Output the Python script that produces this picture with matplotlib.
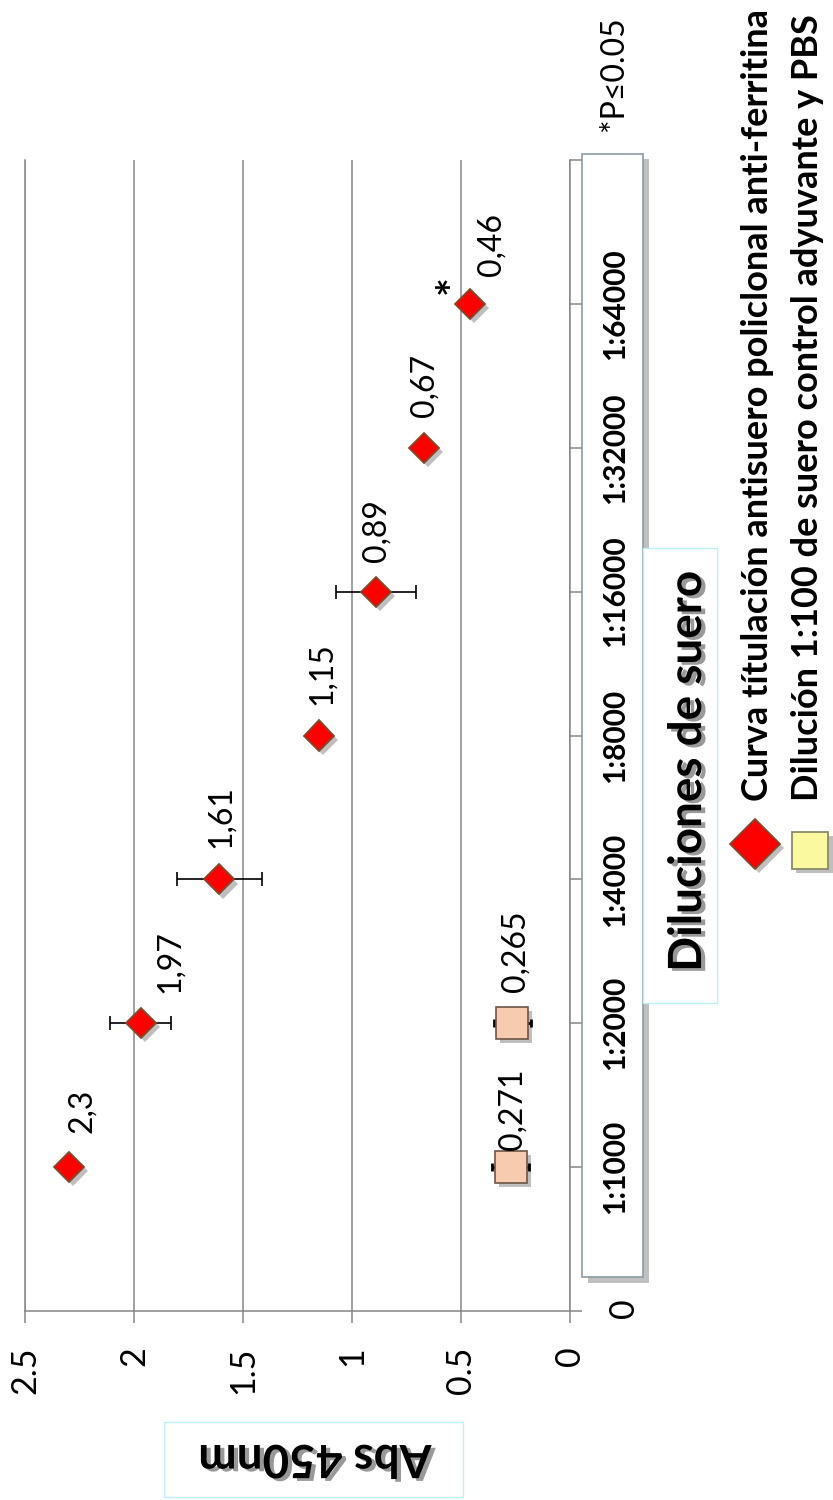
import matplotlib
matplotlib.use("Agg")
import matplotlib.pyplot as plt
import matplotlib.patheffects as pe
from matplotlib.patches import Rectangle
from matplotlib.lines import Line2D
from matplotlib import transforms

plt.rcParams['font.family'] = ['Lato', 'DejaVu Sans']

# titulacion del antisuero (Abs 450nm) por dilucion
diluciones = ['1:1000', '1:2000', '1:4000', '1:8000', '1:16000', '1:32000', '1:64000']
abs_antisuero = [2.3, 1.97, 1.61, 1.15, 0.89, 0.67, 0.46]
err_antisuero = [0, 0.14, 0.195, 0, 0.183, 0, 0]
# suero control (adyuvante y PBS) a 1:100, medido en las dos primeras posiciones
abs_control = [0.271, 0.265]
err_control = [0.085, 0.085]
sig = [False, False, False, False, False, False, True]

# desplazamiento de las etiquetas de valor (pixeles)
off_antisuero = [(13, 56), (29, 62), (2, 63), (3, 62), (1, 61), (1, 62), (22, 59)]
off_control = [(2, 58), (3, 72)]

GRIS = '#868686'
pos = list(range(1, len(diluciones) + 1))


def coma(v):
    return f'{v:g}'.replace('.', ',')


sombra = [pe.SimplePatchShadow(offset=(3, -3), shadow_rgbFace='black', alpha=0.25), pe.Normal()]

fig = plt.figure(figsize=(8.33, 15), dpi=100)
ax = fig.add_axes([0.030, 0.126, 0.6543, 0.7673])
ax.set_xlim(2.5, 0)
ax.set_ylim(0, 8)

ax.set_xticks([0, 0.5, 1, 1.5, 2, 2.5])
ax.set_xticklabels(['0', '0.5', '1', '1.5', '2', '2.5'])
ax.grid(axis='x', color=GRIS, lw=1.1)
ax.set_axisbelow(True)
ax.yaxis.tick_right()
ax.set_yticks(range(9))
ax.set_yticklabels(['0'] + [''] * 8)
ax.tick_params(axis='x', direction='out', length=8.6, width=1.1, color=GRIS,
               pad=17, labelsize=24.5, labelrotation=90)
ax.tick_params(axis='y', direction='out', length=8.6, width=1.1, color=GRIS,
               pad=19, labelsize=24.5, labelrotation=90)
ax.spines['top'].set_visible(False)
for s in ['left', 'bottom', 'right']:
    ax.spines[s].set_color(GRIS)
    ax.spines[s].set_linewidth(1.1)

# curva de titulacion
ax.errorbar(abs_antisuero, pos, xerr=err_antisuero, fmt='none', ecolor='black',
            elinewidth=1.2, capsize=5, capthick=1.2, zorder=3)
ax.plot(abs_antisuero, pos, linestyle='none', marker='D', ms=15.3, mfc='#FF0000',
        mec='#7F4A2A', mew=1.3, zorder=4, path_effects=sombra)

# control
ax.errorbar(abs_control, pos[:2], xerr=err_control, fmt='none', ecolor='black',
            elinewidth=2, capsize=3, capthick=2, zorder=3)
ax.plot(abs_control, pos[:2], linestyle='none', marker='s', ms=23, mfc='#F6CBB0',
        mec='#6E5546', mew=1.2, zorder=4, path_effects=sombra)

for v, p, (dx, dy) in zip(abs_antisuero, pos, off_antisuero):
    ax.annotate(coma(v), (v, p), xytext=(dx, dy), textcoords='offset pixels',
                rotation=90, rotation_mode='anchor', ha='center', va='center',
                fontsize=23, zorder=5)
for v, p, (dx, dy) in zip(abs_control, pos, off_control):
    ax.annotate(coma(v), (v, p), xytext=(dx, dy), textcoords='offset pixels',
                rotation=90, rotation_mode='anchor', ha='center', va='center',
                fontsize=23, zorder=5)
for v, p, s in zip(abs_antisuero, pos, sig):
    if s:
        ax.annotate('*', (v, p), xytext=(-16, 19), textcoords='offset pixels',
                    rotation=90, rotation_mode='anchor', ha='center', va='center',
                    fontsize=32, fontweight='bold', zorder=5)

# caja de las etiquetas de dilucion
fig.add_artist(Rectangle((0.6987, 0.1487), 0.0732, 0.7487, transform=fig.transFigure,
                         fc='white', ec='#8C9BA3', lw=1.2, zorder=1,
                         path_effects=[pe.withSimplePatchShadow(offset=(4, -4), alpha=0.35)]))
trans = transforms.blended_transform_factory(fig.transFigure, ax.transData)
for p, lab in zip(pos, diluciones):
    fig.text(0.738, p, lab, transform=trans, rotation=90, rotation_mode='anchor',
             ha='center', va='center', fontsize=21.5, fontweight='bold', zorder=3)

# titulos de ejes
titulo_sombra = [pe.withSimplePatchShadow(offset=(3, -2), shadow_rgbFace='#555555', alpha=0.6)]
fig.add_artist(Rectangle((0.772, 0.3313), 0.0888, 0.3033, transform=fig.transFigure,
                         fc='white', ec='#BDEFF6', lw=1, zorder=1))
fig.text(0.826, 0.486, 'Diluciones de suero', rotation=90, rotation_mode='anchor',
         ha='center', va='center', fontsize=33, fontweight='bold', zorder=3,
         path_effects=titulo_sombra)
fig.add_artist(Rectangle((0.1969, 0.002), 0.359, 0.05, transform=fig.transFigure,
                         fc='white', ec='#BDEFF6', lw=1, zorder=1))
fig.text(0.378, 0.028, 'Abs 450nm', rotation=180, rotation_mode='anchor',
         ha='center', va='center', fontsize=33, fontweight='bold', zorder=3,
         path_effects=titulo_sombra)

fig.text(0.737, 0.951, '*P≤0.05', rotation=90, rotation_mode='anchor',
         ha='center', va='center', fontsize=23)

# leyenda
fig.add_artist(Line2D([0.9064], [0.4373], transform=fig.transFigure, marker='D', ms=25.5,
                      mfc='#FF0000', mec='#7F4A2A', mew=1.3, path_effects=sombra))
fig.add_artist(Line2D([0.9724], [0.4333], transform=fig.transFigure, marker='s', ms=26.6,
                      mfc='#FBF9A0', mec='#8A8A6A', mew=1.3, path_effects=sombra))
fig.text(0.9088, 0.466, 'Curva títulación antisuero policlonal anti-ferritina', rotation=90,
         rotation_mode='anchor', ha='left', va='center', fontsize=26, fontweight='bold')
fig.text(0.9688, 0.466, 'Dilución 1:100 de suero control adyuvante y PBS', rotation=90,
         rotation_mode='anchor', ha='left', va='center', fontsize=26, fontweight='bold')

fig.savefig('out.png', dpi=100)
